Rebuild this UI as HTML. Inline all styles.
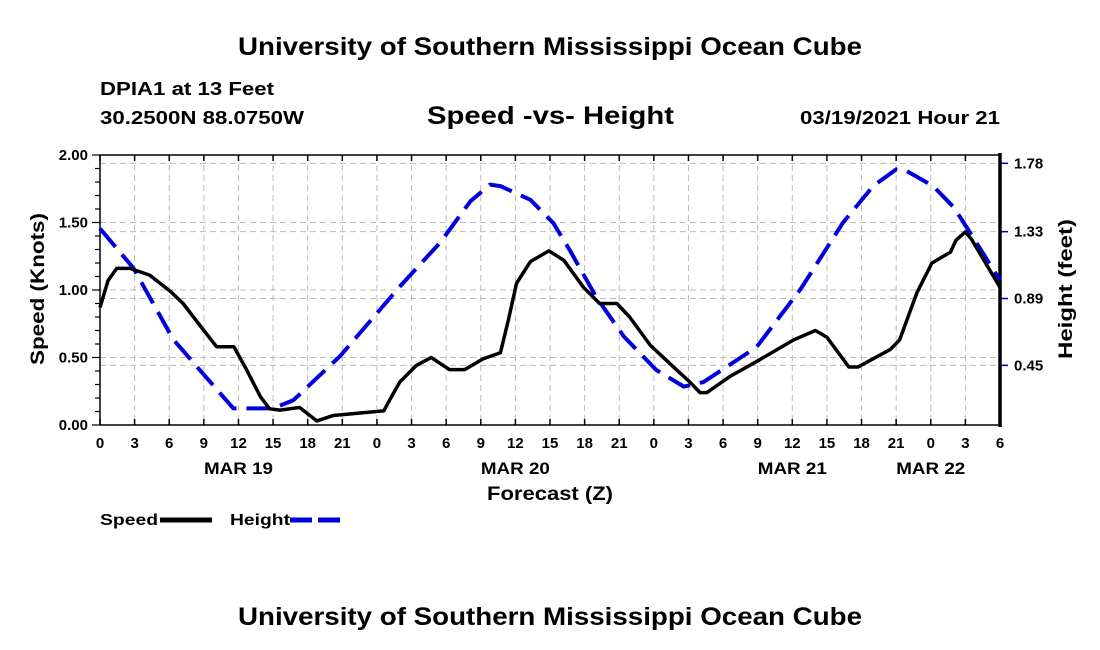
<!DOCTYPE html>
<html><head><meta charset="utf-8"><style>
html,body{margin:0;padding:0;background:#fff;}
svg{display:block;font-family:"Liberation Sans",sans-serif;font-weight:bold;}
</style></head><body>
<svg id="chart" width="1100" height="650" viewBox="0 0 1100 650">
<text x="238" y="55" font-size="25" textLength="624" lengthAdjust="spacingAndGlyphs">University of Southern Mississippi Ocean Cube</text>
<text x="100" y="95" font-size="18" textLength="174" lengthAdjust="spacingAndGlyphs">DPIA1 at 13 Feet</text>
<text x="100" y="124" font-size="18" textLength="204" lengthAdjust="spacingAndGlyphs">30.2500N 88.0750W</text>
<text x="427" y="124" font-size="25" textLength="247" lengthAdjust="spacingAndGlyphs">Speed -vs- Height</text>
<text x="800" y="124" font-size="18" textLength="200" lengthAdjust="spacingAndGlyphs">03/19/2021 Hour 21</text>
<g id="grid"></g>
<g id="axes"></g>
<g id="series"></g>
<text transform="translate(44,289) rotate(-90)" text-anchor="middle" font-size="19" textLength="152" lengthAdjust="spacingAndGlyphs">Speed (Knots)</text>
<text transform="translate(1072,289) rotate(-90)" text-anchor="middle" font-size="19" textLength="140" lengthAdjust="spacingAndGlyphs">Height (feet)</text>
<text x="487" y="500" font-size="19" textLength="126" lengthAdjust="spacingAndGlyphs">Forecast (Z)</text>
<g>
<text x="100" y="525" font-size="16" textLength="58" lengthAdjust="spacingAndGlyphs">Speed</text>
<line x1="160" y1="520" x2="212" y2="520" stroke="#000" stroke-width="5"/>
<text x="230" y="525" font-size="16" textLength="60" lengthAdjust="spacingAndGlyphs">Height</text>
<line x1="290" y1="520" x2="342" y2="520" stroke="#0000dd" stroke-width="5" stroke-dasharray="22,6"/>
</g>
<text x="238" y="625" font-size="25" textLength="624" lengthAdjust="spacingAndGlyphs">University of Southern Mississippi Ocean Cube</text>
</svg>
<script>
const speedHours=[0,0.7,1.45,2.6,4.3,6.1,7.2,9.0,10.1,11.6,12.7,13.9,14.7,15.6,17.3,18.8,20.2,24.6,25.1,26.0,27.4,28.7,30.3,31.6,33.2,34.7,35.4,36.1,37.3,38.9,40.2,41.9,43.3,44.8,45.9,47.7,49.7,51.1,52.0,52.6,54.6,56.9,60.1,62.0,63.0,64.9,65.7,68.5,69.3,70.8,72.1,73.7,74.2,75.0,75.5,78];
const speedValues=[0.87,1.07,1.16,1.16,1.11,0.99,0.90,0.70,0.58,0.58,0.41,0.21,0.12,0.11,0.13,0.03,0.07,0.105,0.185,0.32,0.44,0.50,0.41,0.41,0.49,0.535,0.78,1.05,1.21,1.29,1.22,1.02,0.90,0.90,0.80,0.59,0.43,0.32,0.24,0.24,0.36,0.47,0.63,0.70,0.65,0.43,0.43,0.56,0.63,0.98,1.20,1.28,1.37,1.43,1.38,1.02];
const heightHours=[0,2.9,6.35,11.55,15.0,16.75,20.8,26.0,29.5,32.1,33.8,34.7,37.3,39.3,40.7,43.0,45.4,48.2,50.6,52.3,56.9,60.7,64.4,67.0,69.0,69.9,72.2,74.0,75.1,78];
const heightValues=[1.35,1.09,0.62,0.167,0.167,0.22,0.51,0.97,1.26,1.53,1.64,1.63,1.54,1.385,1.21,0.90,0.64,0.42,0.31,0.34,0.57,0.95,1.39,1.63,1.74,1.73,1.63,1.49,1.36,1.01];
const hourTickLabels=["0","3","6","9","12","15","18","21","0","3","6","9","12","15","18","21","0","3","6","9","12","15","18","21","0","3","6"];
const dayLabels=["MAR 19","MAR 20","MAR 21","MAR 22"];
const dayLabelHours=[12,36,60,72];
const speedTicks=[0,0.5,1.0,1.5,2.0];
const heightTicks=[0.45,0.89,1.33,1.78];

const NS="http://www.w3.org/2000/svg";
const L=100,R=1000,T=155,B=425,HMAX=78;
const xS=h=>L+h*(R-L)/HMAX;
const yS=v=>B-v*(B-T)/2;
const yH=v=>433.7-v*151.9;
function mk(p,tag,attrs){const e=document.createElementNS(NS,tag);for(const k in attrs)e.setAttribute(k,attrs[k]);p.appendChild(e);return e;}
const grid=document.getElementById('grid'),axes=document.getElementById('axes'),series=document.getElementById('series');
const gs={stroke:"#bbb","stroke-width":1,"stroke-dasharray":"6,4"};
hourTickLabels.forEach((t,i)=>{
  const x=xS(i*3);
  if(i>0&&i<hourTickLabels.length-1){const g=mk(grid,'line',Object.assign({x1:x,x2:x,y1:T,y2:B},gs));
  
  }
  const tk=mk(axes,'line',{x1:x,x2:x,y1:B,y2:B-6,stroke:"#000","stroke-width":1.5});
  
  
  const tk2=mk(axes,'line',{x1:x,x2:x,y1:T,y2:T+6,stroke:"#000","stroke-width":1.5});
  
  
  const tx=mk(axes,'text',{x:x,y:448,"text-anchor":"middle","font-size":15});
  tx.textContent=t;
  
  
});
dayLabels.forEach((d,i)=>{
  const tx=mk(axes,'text',{x:xS(dayLabelHours[i]),y:474,"text-anchor":"middle","font-size":17,textLength:69,lengthAdjust:"spacingAndGlyphs"});
  tx.textContent=d;
  
  
});
speedTicks.forEach(v=>{
  const y=yS(v);
  if(v>0){const g=mk(grid,'line',Object.assign({x1:L,x2:R,y1:y,y2:y},gs));
  
  }
  const tx=mk(axes,'text',{x:88,y:y+5,"text-anchor":"end","font-size":15});
  tx.textContent=v.toFixed(2);
  
  
});
for(let i=0;i<=20;i++){
  const y=yS(i*0.1),len=i%5==0?8:5;
  const tk=mk(axes,'line',{x1:L-len,x2:L,y1:y,y2:y,stroke:"#000","stroke-width":1.2});
  
  
}
heightTicks.forEach(v=>{
  const y=yH(v);
  const g=mk(grid,'line',Object.assign({x1:L,x2:R,y1:y,y2:y},gs));
  
  
  const tk=mk(axes,'line',{x1:R,x2:R+8,y1:y,y2:y,stroke:"#0000aa","stroke-width":1.5});
  
  
  const tx=mk(axes,'text',{x:1014,y:y+5,"font-size":15});
  tx.textContent=v.toFixed(2);
  
  
});
const frame=mk(axes,'path',{d:`M${L},${B}V${T}H${R}M${L},${B}H${R}`,fill:"none",stroke:"#000","stroke-width":1.5});


const rax=mk(axes,'line',{x1:R,x2:R,y1:T-2,y2:B+2,stroke:"#000","stroke-width":3.5});


const hp=mk(series,'polyline',{points:heightHours.map((h,i)=>xS(h)+','+yH(heightValues[i])).join(' '),fill:"none",stroke:"#0000dd","stroke-width":4,"stroke-dasharray":"24,10","stroke-linejoin":"round"});


const sp=mk(series,'polyline',{points:speedHours.map((h,i)=>xS(h)+','+yS(speedValues[i])).join(' '),fill:"none",stroke:"#000","stroke-width":3.5,"stroke-linejoin":"round"});


</script>
</body></html>
